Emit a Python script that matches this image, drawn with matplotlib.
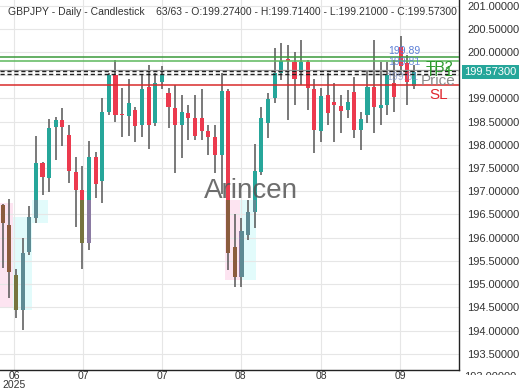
import matplotlib
matplotlib.use("Agg")
import matplotlib.pyplot as plt
import matplotlib.transforms as mtransforms
from matplotlib.patches import Rectangle
import numpy as np

# OHLC (63 daily candles)
opens = [196.70, 196.27, 195.19, 194.44, 195.70, 196.42, 197.60, 197.28, 198.38, 198.53,
         198.21, 197.42, 197.03, 195.88, 197.74, 197.23, 198.71, 199.50, 198.66, 198.63,
         198.75, 198.42, 199.24, 198.46, 199.36, 199.12, 198.80, 198.43, 198.69, 198.57,
         198.57, 198.30, 198.16, 197.78, 199.17, 195.80, 195.16, 196.06, 196.56, 197.42,
         198.48, 199.00, 199.54, 199.84, 199.79, 199.58, 199.79, 199.20, 198.30, 199.07,
         198.93, 198.84, 198.75, 199.14, 198.33, 198.64, 199.24, 198.79, 198.86, 199.33,
         200.11, 199.76, 199.274]
highs = [196.72, 196.83, 195.32, 196.00, 196.68, 198.19, 197.64, 198.55, 198.61, 198.79,
         198.43, 197.74, 197.54, 198.08, 197.84, 199.00, 199.55, 199.83, 199.22, 199.41,
         198.82, 199.50, 199.72, 199.54, 199.70, 199.22, 199.29, 199.07, 198.86, 199.07,
         199.20, 198.43, 198.43, 199.54, 199.20, 196.52, 196.42, 196.81, 198.01, 198.82,
         199.11, 200.08, 200.20, 200.15, 200.00, 200.26, 199.83, 199.41, 199.22, 199.54,
         199.33, 199.07, 199.18, 199.47, 198.71, 199.61, 200.26, 199.79, 199.79, 199.83,
         200.34, 199.94, 199.714]
lows = [195.34, 194.70, 194.27, 194.01, 195.62, 196.31, 196.92, 196.99, 197.67, 197.97,
        197.17, 196.24, 195.32, 195.73, 196.85, 196.74, 198.64, 198.50, 198.16, 198.20,
        198.07, 198.16, 197.90, 198.41, 199.20, 198.36, 197.39, 197.71, 198.10, 198.10,
        198.10, 197.78, 197.39, 196.95, 195.30, 194.94, 194.94, 195.95, 196.20, 197.35,
        198.14, 198.91, 199.40, 198.53, 198.86, 199.29, 198.75, 197.82, 198.07, 198.43,
        198.07, 198.25, 198.57, 198.14, 197.89, 198.46, 198.25, 198.43, 198.64, 198.71,
        199.50, 198.86, 199.21]
closes = [196.31, 195.27, 194.44, 195.68, 196.45, 197.60, 197.31, 198.36, 198.53, 198.38,
          197.44, 197.03, 195.88, 197.73, 197.16, 198.71, 199.50, 198.64, 198.64, 198.91,
          198.41, 199.20, 198.42, 199.34, 199.50, 198.82, 198.43, 198.71, 198.57, 198.19,
          198.30, 198.17, 197.78, 199.17, 195.66, 195.16, 196.15, 196.56, 197.44, 198.57,
          198.99, 199.54, 199.81, 199.81, 199.41, 199.79, 199.22, 198.32, 199.05, 198.68,
          198.86, 198.73, 198.93, 198.32, 198.55, 199.24, 198.82, 198.86, 199.50, 199.04,
          199.70, 199.35, 199.573]

tick_pos = [1.7, 12.1, 24.0, 35.9, 48.0, 59.9]
tick_labels = ["06\n2025", "07", "07", "08", "08", "09"]

# pattern zones: (start idx, end idx, low, high, kind)
zones = [(-0.5, 1.6, 194.48, 196.75, "pink"),
         (1.6, 4.37, 194.44, 196.45, "cyan"),
         (4.37, 6.87, 196.31, 196.81, "cyan"),
         (11.5, 12.5, 195.70, 196.81, "cyan_faint"),
         (12.5, 13.5, 195.70, 196.81, "pink_faint"),
         (33.5, 35.8, 195.09, 196.81, "pink"),
         (35.8, 38.2, 195.09, 196.81, "cyan")]

# trade levels
tp2, tp1, entry, sl = 199.886, 199.81, 199.61, 199.29
bid, ask = 199.585, 199.52
last_close = 199.573

UP, DOWN, WICK = "#26a69a", "#ec3a4e", "#555555"
zone_bg = {"pink": "#fde4f1", "cyan": "#e2fbfb", "pink_faint": "#ffffff", "cyan_faint": "#ffffff"}
tint = {"pink": ("#8a7aa2", "#8b5c3e"), "cyan": ("#5d8a93", "#76743f")}

fig = plt.figure(figsize=(5.2, 3.9), dpi=100)
ax = fig.add_axes([0.0, 20 / 390, 459 / 520, 370 / 390])

x = np.arange(len(opens))
o = np.array(opens); c = np.array(closes)
h = np.array(highs); l = np.array(lows)
up = c >= o
body_lo = np.minimum(o, c)
body_h = np.maximum(np.abs(c - o), 0.03)
cols = np.where(up, UP, DOWN)

for x0, x1, y0, y1, kind in zones:
    ax.add_patch(Rectangle((x0, y0), x1 - x0, y1 - y0, facecolor=zone_bg[kind],
                           edgecolor="none", zorder=0.5))

ax.vlines(x, l, h, color=WICK, linewidth=1.1, zorder=2)
ax.bar(x, body_h, bottom=body_lo, width=0.62, color=cols, linewidth=0, zorder=3)

# candles inside zones get a muted tint
for x0, x1, y0, y1, kind in zones:
    base = kind.replace("_faint", "")
    up_t, dn_t = tint[base]
    clip = Rectangle((x0, y0), x1 - x0, y1 - y0, transform=ax.transData)
    bars = ax.bar(x, body_h, bottom=body_lo, width=0.62,
                  color=np.where(up, up_t, dn_t), linewidth=0, zorder=3.5)
    for b in bars:
        b.set_clip_path(clip)

# level lines
ax.axhline(tp2, color="#3a9a3a", lw=1.1, zorder=4)
ax.axhline(tp1, color="#5cb85c", lw=1.1, zorder=4)
ax.axhline(entry, color="#9a9a9a", lw=0.9, zorder=4)
ax.axhline(bid, color="#222222", lw=1.0, ls=(0, (3, 2)), zorder=4)
ax.axhline(ask, color="#222222", lw=1.0, ls=(0, (3, 2)), zorder=4)
ax.axhline(sl, color="#d92b2b", lw=1.1, zorder=4)

ax.text(60.6, tp2 + 0.02, "199.89", color="#5b7fd6", fontsize=7.5, ha="center", va="bottom",
        family="Liberation Sans", zorder=5)
ax.text(60.6, tp1 - 0.02, "199.81", color="#5b7fd6", fontsize=7.5, ha="center", va="center",
        family="Liberation Sans", zorder=5, alpha=0.85)
ax.text(60.2, entry - 0.05, "199.61", color="#7c8fc8", fontsize=7.5, ha="center", va="top",
        family="Liberation Sans", zorder=5, alpha=0.7)
ax.text(68.0, tp2 - 0.05, "TP2", color="#2e9a2e", fontsize=11, ha="right", va="top",
        family="Liberation Sans", zorder=5)
ax.text(68.0, tp1 - 0.1, "TP1", color="#2e9a2e", fontsize=11, ha="right", va="top",
        family="Liberation Sans", zorder=5)
ax.text(68.3, entry - 0.08, "Price", color="#8a8a8a", fontsize=11, ha="right", va="top",
        family="Liberation Sans", zorder=5)
ax.text(67.2, sl - 0.06, "SL", color="#e0262e", fontsize=11, ha="right", va="top",
        family="Liberation Sans", zorder=5)

ax.text(37.5, 197.0, "Arincen", color="#555555", alpha=0.85, fontsize=20,
        ha="center", va="center", family="Liberation Sans", zorder=6)

ax.set_xlim(-0.41, 68.8)
ax.set_ylim(193.15, 201.12)
ax.set_yticks(np.arange(193.5, 201.01, 0.5))
ax.yaxis.set_major_formatter(plt.FuncFormatter(lambda v, p: f"{v:.5f}"))
ax.yaxis.tick_right()
ax.set_xticks(tick_pos)
ax.set_xticklabels(tick_labels)
ax.tick_params(length=0, labelsize=8, colors="#333333", pad=6)
ax.tick_params(axis="x", pad=1, labelsize=7.5)
for t in ax.get_xticklabels():
    t.set_family("Liberation Sans")
    t.set_linespacing(0.85)
for t in ax.get_yticklabels():
    t.set_family("Liberation Sans")
ax.grid(True, color="#e6e6e6", lw=0.8, zorder=0)
ax.set_axisbelow(True)
for side in ["left", "top"]:
    ax.spines[side].set_visible(False)
for side in ["right", "bottom"]:
    ax.spines[side].set_color("#222222")
    ax.spines[side].set_linewidth(1.0)

trans = mtransforms.blended_transform_factory(ax.transAxes, ax.transData)
ax.text(1.012, last_close, "199.57300", transform=trans, color="white", fontsize=8,
        ha="left", va="center", family="Liberation Sans", zorder=7,
        bbox=dict(boxstyle="square,pad=0.2", facecolor="#26a69a", edgecolor="none"))

# the 193 label peeks out below the plot, cut by the date strip
low_lab = ax.text(1.012, 193.0, "193.00000", transform=trans, color="#333333", fontsize=8,
                  ha="left", va="center", family="Liberation Sans", clip_on=True)
low_lab.set_clip_box(mtransforms.Bbox([[460, 390 - 375], [520, 390]]))

fig.text(8 / 520, 1 - 12 / 390,
         "GBPJPY - Daily - Candlestick    63/63 - O:199.27400 - H:199.71400 - L:199.21000 - C:199.57300",
         fontsize=7.5, color="#333333", va="center", ha="left", family="Liberation Sans")

fig.savefig("out.png", dpi=100)
